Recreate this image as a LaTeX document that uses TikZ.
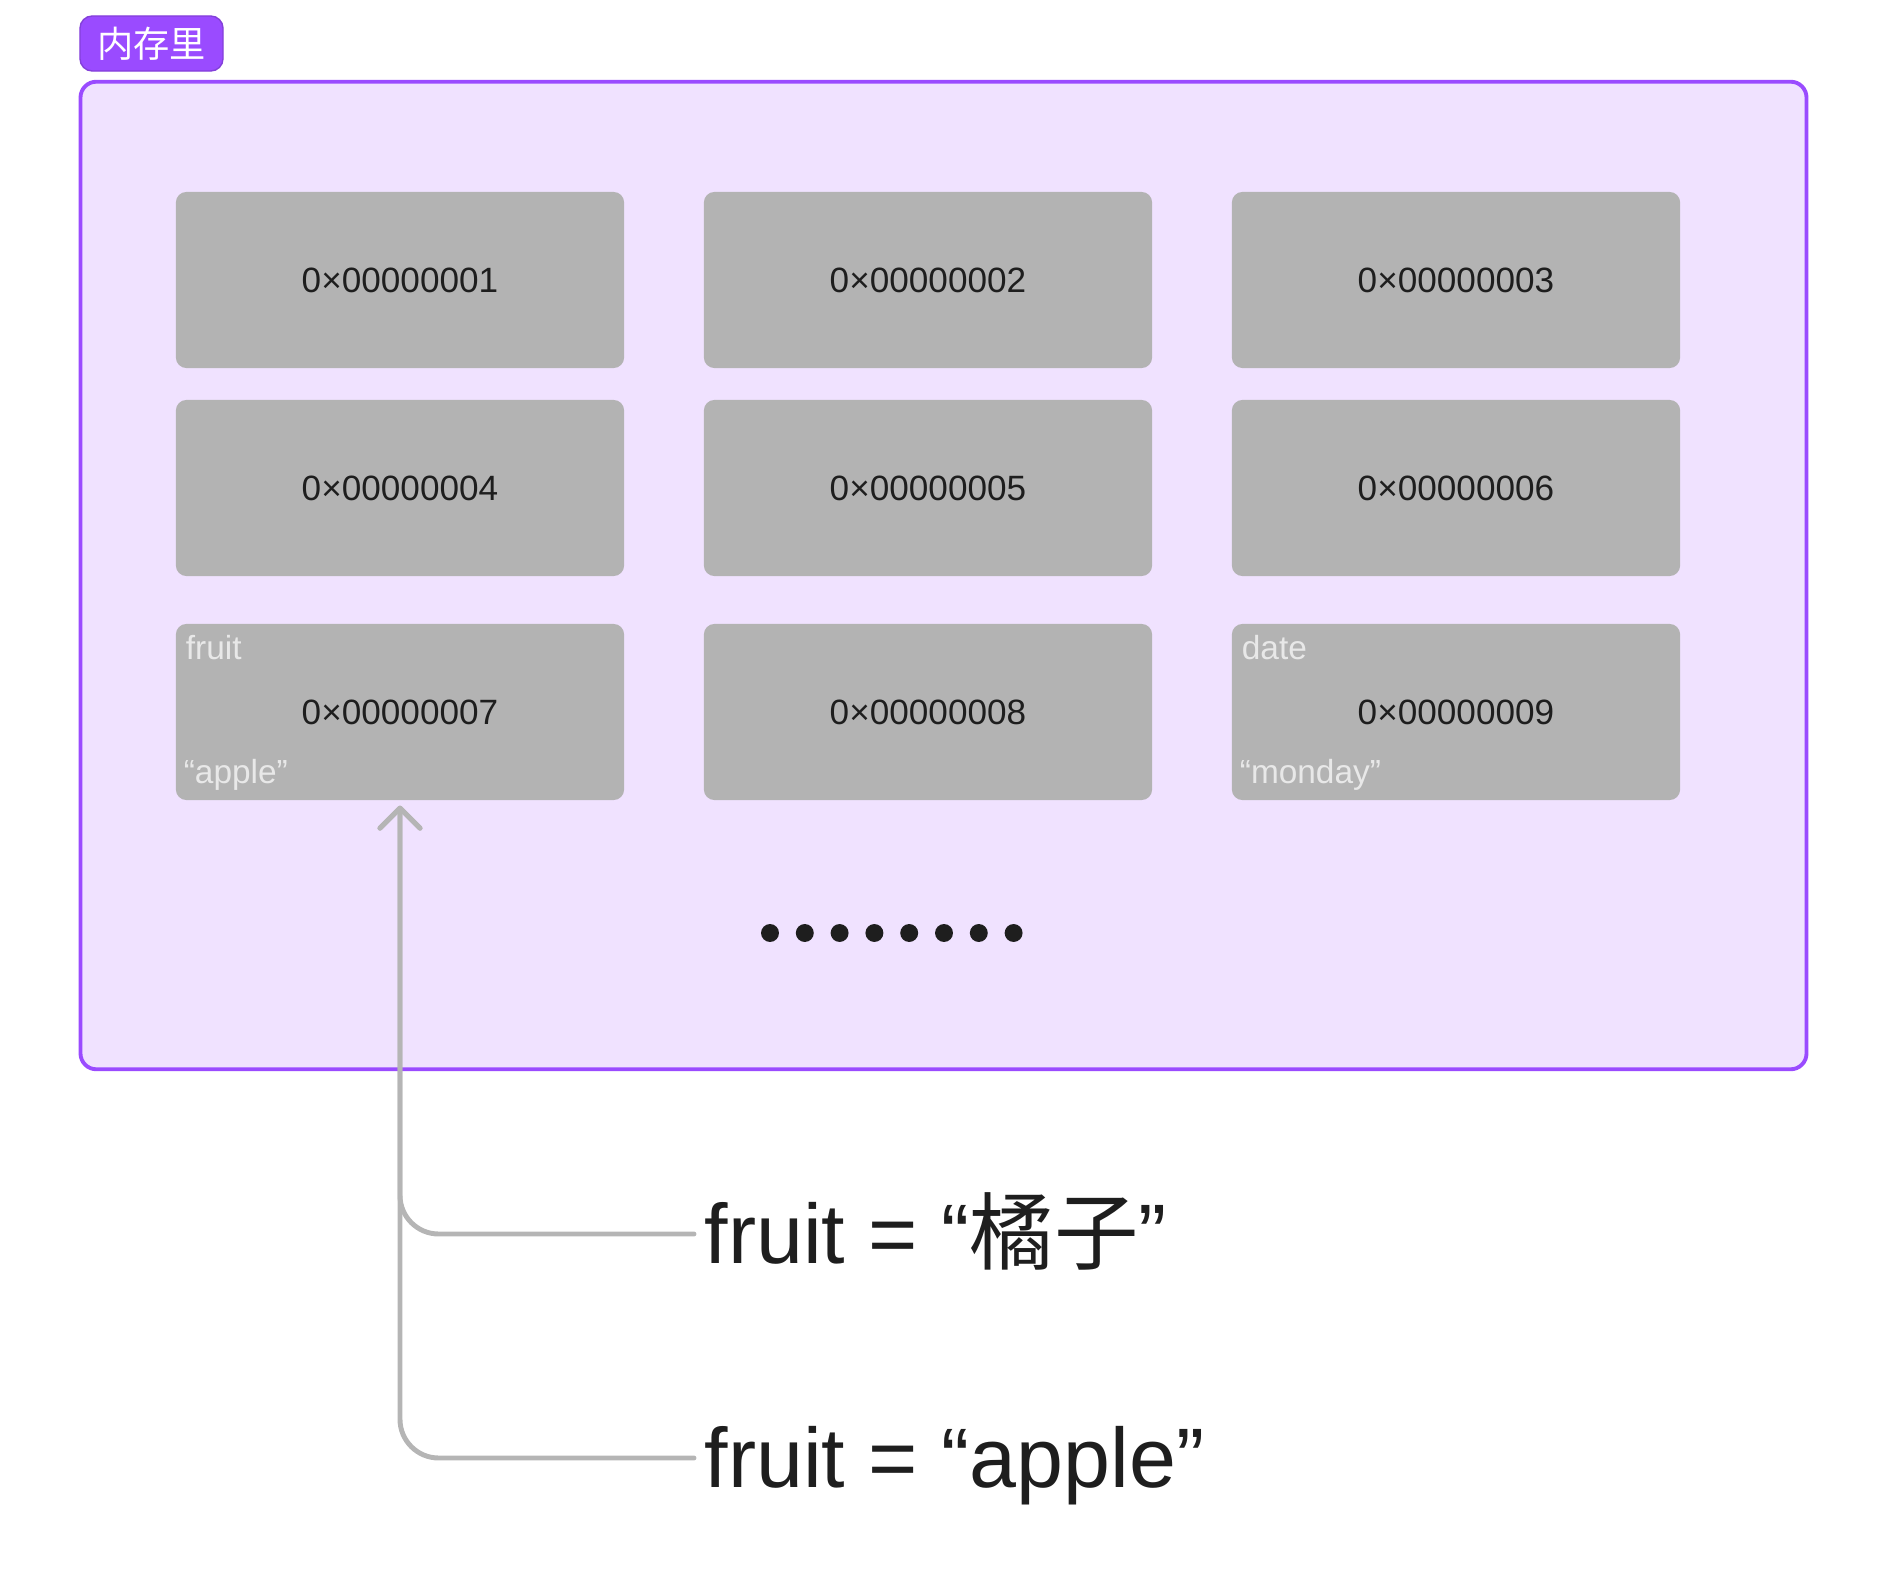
\documentclass[tikz,border=0pt]{standalone}
\usepackage{fontspec}
\setmainfont{Liberation Sans}
\newfontfamily\cjk{Noto Sans CJK SC}
\usepackage{tikz}
\usetikzlibrary{arrows.meta,positioning,calc}
\definecolor{cMem}{HTML}{9A4BFF}
\definecolor{cMemBg}{HTML}{F0E2FF}
\definecolor{cCell}{HTML}{B3B3B3}
\definecolor{cInk}{HTML}{1E1E1E}
\definecolor{cPale}{HTML}{E8E8E8}
\definecolor{cLink}{HTML}{B5B5B5}
\tikzset{
  membox/.style={draw=cMem,fill=cMemBg,line width=1.1pt,rounded corners=4.5pt,
                 minimum width=17.25cm,minimum height=9.87cm,inner sep=0pt},
  tagbox/.style={draw=cMem!85!black,fill=cMem,text=white,rounded corners=3.5pt,
                 minimum width=1.43cm,minimum height=0.55cm,inner sep=0pt,
                 font=\cjk\fontsize{10.3}{12}\selectfont},
  cell/.style  ={fill=cCell,rounded corners=3pt,minimum width=4.48cm,
                 minimum height=1.76cm,inner sep=0pt,text=cInk,
                 font=\fontsize{10}{12}\selectfont},
  lbl/.style   ={text=cPale,inner sep=0pt,anchor=base west,
                 font=\fontsize{9.5}{11}\selectfont},
  stmt/.style  ={text=cInk,anchor=west,inner xsep=2.85pt,inner ysep=0pt,
                 text height=17pt,text depth=0pt,font=\fontsize{24}{28}\selectfont},
  link/.style  ={draw=cLink,line width=1.4pt,rounded corners=11pt,line cap=round,
                 shorten >=1.4pt,-{Straight Barb[length=5.7pt,width=11.4pt,round]}},
  dot/.style   ={circle,fill=cInk,inner sep=0pt,minimum size=5.1pt},
}
\begin{document}
\begin{tikzpicture}[x=0.01cm,y=-0.01cm]
\useasboundingbox (0,0) rectangle (1888,1586);
% the memory area and its tag
\node[membox] (mem) at (943.5,575.5) {};
\node[tagbox] (tag) at (151.5,43.5) {内存里};
% nine cells, row by row
\foreach \n/\x/\y in {1/400/280,2/928/280,3/1456/280,
                      4/400/488,5/928/488,6/1456/488,
                      7/400/712,8/928/712,9/1456/712}
  \node[cell] (c\n) at (\x,\y) {0×0000000\n};
% names and values held in cells 7 and 9
\node[lbl] (k7) at ($(c7.north west)+(10,36)$) {fruit};
\node[lbl] (v7) at ($(c7.south west)+(8,-17)$) {“apple”};
\node[lbl] (k9) at ($(c9.north west)+(10,36)$) {date};
\node[lbl] (v9) at ($(c9.south west)+(8,-17)$) {“monday”};
% and so on
\foreach \i in {0,...,7} \node[dot] (d\i) at (770+34.8*\i,933) {};
% the two assignments
\node[stmt] (s1) at (694,1234) {fruit = “{\cjk 橘子}”};
\node[stmt] (s2) at (694,1458) {fruit = “apple”};
\draw[link] (s1.west) -| (c7.south);
\draw[link] (s2.west) -| (c7.south);
\end{tikzpicture}
\end{document}
